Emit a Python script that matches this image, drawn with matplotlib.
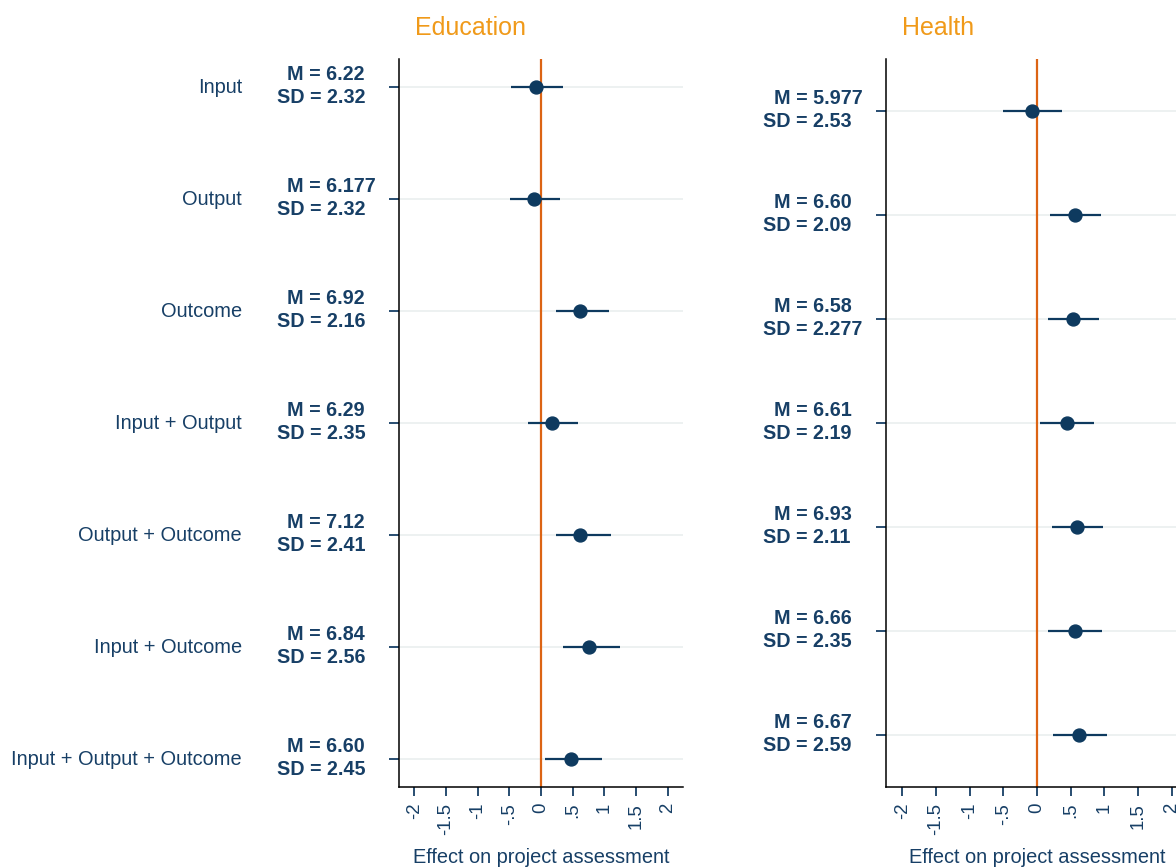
import numpy as np
import matplotlib.pyplot as plt
from matplotlib.transforms import blended_transform_factory

plt.rcParams['font.family'] = ['Liberation Sans', 'DejaVu Sans']

# data
categories = ['Input', 'Output', 'Outcome', 'Input + Output', 'Output + Outcome',
              'Input + Outcome', 'Input + Output + Outcome']
rows = [1, 2, 3, 4, 5, 6, 7]

edu_coef = [-0.08, -0.11, 0.62, 0.18, 0.62, 0.76, 0.47]
edu_lo = [-0.48, -0.49, 0.24, -0.21, 0.23, 0.34, 0.06]
edu_hi = [0.34, 0.30, 1.08, 0.58, 1.11, 1.25, 0.97]
edu_m = ['6.22', '6.177', '6.92', '6.29', '7.12', '6.84', '6.60']
edu_sd = ['2.32', '2.32', '2.16', '2.35', '2.41', '2.56', '2.45']

hea_coef = [-0.07, 0.57, 0.53, 0.44, 0.60, 0.56, 0.63]
hea_lo = [-0.51, 0.20, 0.16, 0.04, 0.22, 0.16, 0.24]
hea_hi = [0.37, 0.95, 0.92, 0.85, 0.98, 0.96, 1.04]
hea_m = ['5.977', '6.60', '6.58', '6.61', '6.93', '6.66', '6.67']
hea_sd = ['2.53', '2.09', '2.277', '2.19', '2.11', '2.35', '2.59']

xticks = [-2, -1.5, -1, -0.5, 0, 0.5, 1, 1.5, 2]
xticklabels = ['-2', '-1.5', '-1', '-.5', '0', '.5', '1', '1.5', '2']

W, H = 1176, 867
navy = '#173f66'
dot = '#0e3a5f'
orange_line = '#dc6414'
orange_title = '#f09a1a'
grid_c = '#e8eeee'

fig = plt.figure(figsize=(W / 100, H / 100), dpi=100)


def panel(left_px, right_px, ylim, title, title_x, coef, lo, hi, m, sd, sd_x, m_x, cats=None):
    ax = fig.add_axes([left_px / W, 1 - 787 / H, (right_px - left_px) / W, (787 - 59) / H])
    ax.set_xlim(-2.24, 2.24)
    ax.set_ylim(*ylim)
    for s in ['top', 'right']:
        ax.spines[s].set_visible(False)
    for s in ['left', 'bottom']:
        ax.spines[s].set_color('black')
        ax.spines[s].set_linewidth(1.1)
    for r in rows:
        ax.axhline(r, color=grid_c, lw=1.1, zorder=0)
    ax.axvline(0, color=orange_line, lw=1.6, zorder=2)
    ax.hlines(rows, lo, hi, color=dot, lw=1.6, zorder=3)
    ax.plot(coef, rows, 'o', color=dot, ms=9.3, zorder=4)

    ax.set_xticks(xticks)
    ax.set_xticklabels(xticklabels, rotation=90, color=navy, fontsize=13.4)
    ax.tick_params(axis='x', direction='out', length=6.5, width=1.3, color=navy, pad=5)
    ax.set_yticks(rows)
    ax.set_yticklabels([])
    ax.tick_params(axis='y', direction='out', length=7, width=1.3, color=navy)

    ax.set_xlabel('Effect on project assessment', color=navy, fontsize=14.4)
    ax.xaxis.set_label_coords(0.5, -76 / 728)
    ax.xaxis.label.set_verticalalignment('baseline')

    fig.text(title_x / W, 1 - 35 / H, title, color=orange_title, fontsize=18,
             ha='left', va='baseline')

    trans = blended_transform_factory(fig.transFigure, ax.transData)
    for i, r in enumerate(rows):
        ax.annotate('M = ' + m[i], xy=(m_x / W, r), xycoords=trans, xytext=(0, 7),
                    textcoords='offset pixels', ha='left', va='baseline',
                    color=navy, fontsize=14.2, fontweight='bold')
        ax.annotate('SD = ' + sd[i], xy=(sd_x / W, r), xycoords=trans, xytext=(0, -16),
                    textcoords='offset pixels', ha='left', va='baseline',
                    color=navy, fontsize=14.2, fontweight='bold')
        if cats is not None:
            ax.annotate(cats[i], xy=(242 / W, r), xycoords=trans, xytext=(0, -6),
                        textcoords='offset pixels', ha='right', va='baseline',
                        color=navy, fontsize=14.4)
    return ax


panel(399, 683, (7.25, 0.75), 'Education', 415, edu_coef, edu_lo, edu_hi,
      edu_m, edu_sd, 276.7, 287.3, categories)
panel(886, 1188, (7.5, 0.5), 'Health', 902, hea_coef, hea_lo, hea_hi,
      hea_m, hea_sd, 763.3, 774)

fig.savefig('out.png', dpi=100)
